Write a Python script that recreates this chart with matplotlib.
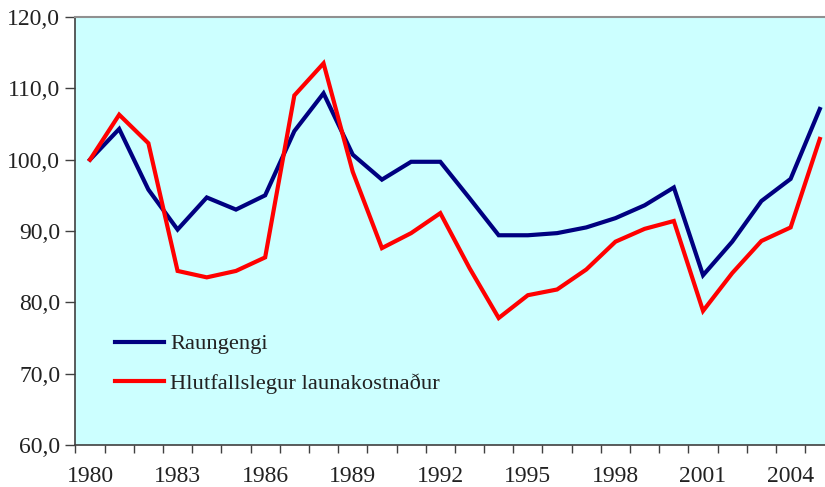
import matplotlib
matplotlib.use("Agg")
import matplotlib.pyplot as plt
from matplotlib.ticker import FuncFormatter

years = list(range(1980, 2006))
raungengi = [100.0, 104.3, 95.8, 90.2, 94.7, 93.0, 95.0, 104.0, 109.3, 100.7,
             97.2, 99.7, 99.7, 94.6, 89.4, 89.4, 89.7, 90.5, 91.8, 93.6,
             96.1, 83.8, 88.5, 94.2, 97.3, 107.1]
launakostn = [100.0, 106.3, 102.3, 84.4, 83.5, 84.4, 86.3, 109.0, 113.5, 98.3,
              87.6, 89.7, 92.5, 84.8, 77.8, 81.0, 81.8, 84.6, 88.5, 90.3,
              91.4, 78.8, 84.1, 88.6, 90.5, 102.9]
labels = ["Raungengi", "Hlutfallslegur launakostnaður"]

plt.rcParams['font.family'] = ['Liberation Serif', 'DejaVu Serif']
plt.rcParams['font.size'] = 17

fig = plt.figure(figsize=(8.25, 4.87), dpi=100)
ax = fig.add_axes([0.0914, 0.0862, 0.920, 0.879])
ax.set_facecolor('#CCFFFF')

x = list(range(len(years)))
ax.plot(x, raungengi, color='#000080', lw=3, label=labels[0], solid_joinstyle='miter')
ax.plot(x, launakostn, color='#FF0000', lw=3, label=labels[1], solid_joinstyle='miter')

ax.set_xlim(-0.5, len(years) - 0.5)
ax.set_ylim(60, 120)
ax.set_yticks(range(60, 121, 10))
ax.yaxis.set_major_formatter(FuncFormatter(lambda v, p: f"{v:.1f}".replace('.', ',')))

ax.set_xticks(x[::3])
ax.set_xticklabels([str(y) for y in years[::3]])
ax.set_xticks([i - 0.5 for i in x], minor=True)
ax.tick_params(axis='x', which='major', length=0, pad=15, colors='#222222')
ax.tick_params(axis='x', which='minor', length=6, width=1, color='#404040')
ax.tick_params(axis='y', length=7, width=1, color='#404040', pad=4, labelcolor='#222222')

for s in ['left', 'bottom']:
    ax.spines[s].set_color('#404040')
    ax.spines[s].set_linewidth(1.2)
for s in ['top', 'right']:
    ax.spines[s].set_color('#909090')
    ax.spines[s].set_linewidth(1.5)

ax.legend(loc='center left', bbox_to_anchor=(0.052, 0.19), frameon=False,
          borderpad=0, borderaxespad=0, handlelength=2.2, handletextpad=0.25,
          labelspacing=0.82, fontsize=16.2, labelcolor='#222222')

fig.savefig('out.png', dpi=100)
